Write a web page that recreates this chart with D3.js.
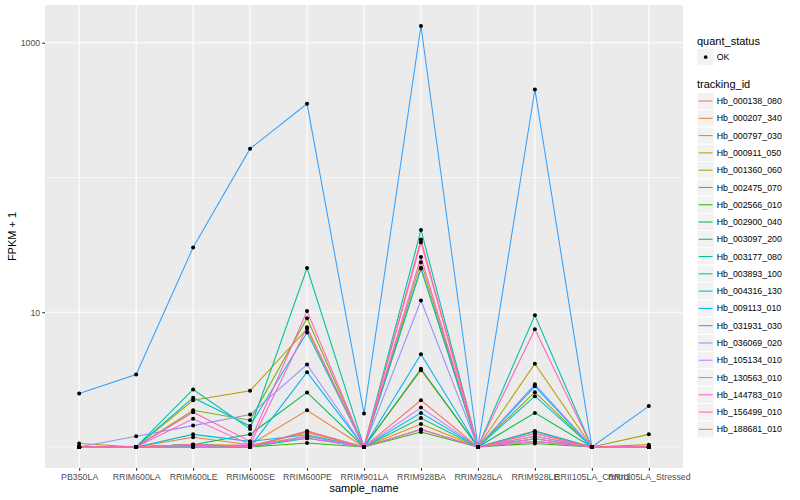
<!DOCTYPE html>
<html>
<head>
<meta charset="utf-8">
<script src="https://cdn.jsdelivr.net/npm/d3@7"></script>
<style>
  body { margin: 0; background: #fff; }
  svg { display: block; font-family: "Liberation Sans", Arial, sans-serif; }
</style>
</head>
<body>
<svg id="vis"></svg>
<script>
// DATOS -------------------------------------------------------------------------------------------
const samples = [
  "PB350LA", "RRIM600LA", "RRIM600LE", "RRIM600SE", "RRIM600PE", "RRIM901LA",
  "RRIM928BA", "RRIM928LA", "RRIM928LE", "RRII105LA_Control", "RRII105LA_Stressed",
];

const trackingIds = [
  "Hb_000138_080", "Hb_000207_340", "Hb_000797_030", "Hb_000911_050", "Hb_001360_060",
  "Hb_002475_070", "Hb_002566_010", "Hb_002900_040", "Hb_003097_200", "Hb_003177_080",
  "Hb_003893_100", "Hb_004316_130", "Hb_009113_010", "Hb_031931_030", "Hb_036069_020",
  "Hb_105134_010", "Hb_130563_010", "Hb_144783_010", "Hb_156499_010", "Hb_188681_010",
];

// FPKM por gen (mismo orden que samples)
const fpkm = [
  [0, 0, 0.04, 0, 0.31, 0, 1.22, 0, 0.26, 0, 0],
  [0, 0, 0.18, 0.04, 0.87, 0, 2.71, 0, 0.31, 0, 0],
  [0, 0, 0.04, 0.02, 0.28, 0, 0.48, 0, 0.2, 0, 0],
  [0, 0, 1.22, 1.61, 6.52, 0, 22.5, 0, 3.14, 0, 0.04],
  [0.06, 0, 0.04, 0.02, 0.2, 0, 0.35, 0, 0.1, 0, 0.24],
  [0, 0, 0.87, 0.58, 8.02, 0, 20.1, 0, 1.55, 0, 0],
  [0, 0, 0, 0, 0.07, 0, 0.29, 0, 0.06, 0, 0],
  [0, 0, 0.04, 0.24, 1.54, 0, 2.8, 0, 0.79, 0, 0],
  [0, 0, 0, 0, 0.16, 0, 0.64, 0, 0.15, 0, 0],
  [0, 0, 1.67, 0.36, 20.3, 0, 39.8, 0, 8.49, 0, 0],
  [0, 0, 1.32, 0.43, 6.06, 0, 20.3, 0, 1.38, 0, 0],
  [0, 0, 0.24, 0.1, 0.23, 0, 0.79, 0, 0.31, 0, 0],
  [0, 0, 0.04, 0, 2.59, 0, 3.88, 0, 1.82, 0, 0],
  [1.49, 2.45, 29.2, 162.6, 351, 0.77, 1329, 0, 449, 0, 1.01],
  [0, 0.2, 0.44, 0.74, 3.09, 0, 11.2, 0, 1.92, 0, 0],
  [0, 0, 0.04, 0, 0.2, 0, 0.96, 0, 0.2, 0, 0],
  [0, 0, 0, 0.04, 0.16, 0, 0.35, 0, 0.1, 0, 0],
  [0, 0, 0.62, 0.04, 6.73, 0, 24.7, 0, 0.15, 0, 0],
  [0, 0, 0.81, 0.1, 9.2, 0, 32.0, 0, 6.48, 0, 0],
  [0, 0, 0.04, 0, 0.31, 0, 33.6, 0, 0.26, 0, 0],
];

const colores = [
  "#F8766D", "#EA8331", "#D89000", "#C09B00", "#A3A500", "#7CAE00", "#39B600",
  "#00BB4E", "#00BF7D", "#00C1A3", "#00BFC4", "#00BAE0", "#00B0F6", "#35A2FF",
  "#9590FF", "#C77CFF", "#E76BF3", "#FA62DB", "#FF62BC", "#FF6C90",
];

const yBreaks = [10, 1000];
const yMinor = [1, 100];

// CONSTANTES --------------------------------------------------------------------------------------
const WIDTH = 800;
const HEIGHT = 500;
const PANEL = { left: 45, top: 5, right: 683, bottom: 468 };
const svg = d3.select("#vis").attr("width", WIDTH).attr("height", HEIGHT);

// ESCALAS -----------------------------------------------------------------------------------------
const escalaX = d3
  .scalePoint()
  .domain(samples)
  .range([PANEL.left, PANEL.right])
  .padding(0.6);

const todos = fpkm.flat().map((v) => Math.log10(v + 1));
const lo = d3.min(todos);
const hi = d3.max(todos);
const ext = (hi - lo) * 0.05;
const escalaY = d3
  .scaleLog()
  .domain([Math.pow(10, lo - ext), Math.pow(10, hi + ext)])
  .range([PANEL.bottom, PANEL.top]);

const escalaColor = d3.scaleOrdinal().domain(trackingIds).range(colores);

// PANEL -------------------------------------------------------------------------------------------
svg
  .append("rect")
  .attr("x", PANEL.left)
  .attr("y", PANEL.top)
  .attr("width", PANEL.right - PANEL.left)
  .attr("height", PANEL.bottom - PANEL.top)
  .attr("fill", "#EBEBEB");

const grilla = svg.append("g");
grilla
  .selectAll(".minor")
  .data(yMinor)
  .join("line")
  .attr("x1", PANEL.left)
  .attr("x2", PANEL.right)
  .attr("y1", (d) => escalaY(d))
  .attr("y2", (d) => escalaY(d))
  .attr("stroke", "#fff")
  .attr("stroke-width", 0.55);
grilla
  .selectAll(".major")
  .data(yBreaks)
  .join("line")
  .attr("x1", PANEL.left)
  .attr("x2", PANEL.right)
  .attr("y1", (d) => escalaY(d))
  .attr("y2", (d) => escalaY(d))
  .attr("stroke", "#fff")
  .attr("stroke-width", 1.1);
grilla
  .selectAll(".vert")
  .data(samples)
  .join("line")
  .attr("x1", (d) => escalaX(d))
  .attr("x2", (d) => escalaX(d))
  .attr("y1", PANEL.top)
  .attr("y2", PANEL.bottom)
  .attr("stroke", "#fff")
  .attr("stroke-width", 1.1);

// EJES --------------------------------------------------------------------------------------------
const ejeY = d3
  .axisLeft(escalaY)
  .tickValues(yBreaks)
  .tickFormat(d3.format("d"))
  .tickSize(2.75)
  .tickPadding(2);
const gY = svg.append("g").attr("transform", `translate(${PANEL.left},0)`).call(ejeY);
const ejeX = d3.axisBottom(escalaX).tickSize(2.75).tickPadding(3.5);
const gX = svg.append("g").attr("transform", `translate(0,${PANEL.bottom})`).call(ejeX);
[gX, gY].forEach((g) => {
  g.select(".domain").remove();
  g.selectAll("line").attr("stroke", "#333333").attr("stroke-width", 1.1);
  g.selectAll("text")
    .attr("fill", "#4D4D4D")
    .style("font-size", "8.8px")
    .style("font-family", "'Liberation Sans', Arial, sans-serif");
});

svg
  .append("text")
  .attr("x", (PANEL.left + PANEL.right) / 2)
  .attr("y", 492)
  .attr("text-anchor", "middle")
  .style("font-size", "11px")
  .text("sample_name");
svg
  .append("text")
  .attr("transform", `translate(16,${(PANEL.top + PANEL.bottom) / 2}) rotate(-90)`)
  .attr("text-anchor", "middle")
  .style("font-size", "11px")
  .text("FPKM + 1");

// LINEAS Y PUNTOS ---------------------------------------------------------------------------------
const series = trackingIds.map((id, i) => ({
  id: id,
  valores: samples.map((s, j) => ({ sample: s, v: fpkm[i][j] + 1 })),
}));

const linea = d3
  .line()
  .x((d) => escalaX(d.sample))
  .y((d) => escalaY(d.v));

svg
  .append("g")
  .selectAll("path")
  .data(series)
  .join("path")
  .attr("d", (d) => linea(d.valores))
  .attr("fill", "none")
  .attr("stroke", (d) => escalaColor(d.id))
  .attr("stroke-width", 1.07);

svg
  .append("g")
  .selectAll("circle")
  .data(series.flatMap((d) => d.valores))
  .join("circle")
  .attr("cx", (d) => escalaX(d.sample))
  .attr("cy", (d) => escalaY(d.v))
  .attr("r", 2)
  .attr("fill", "black");

// LEYENDA -----------------------------------------------------------------------------------------
const leyenda = svg.append("g").attr("transform", "translate(697,0)");
const KEY = 17.28;

leyenda.append("text").attr("x", 0).attr("y", 44.5).style("font-size", "11px").text("quant_status");
leyenda
  .append("rect")
  .attr("x", 0)
  .attr("y", 48.5)
  .attr("width", KEY)
  .attr("height", KEY)
  .attr("fill", "#F2F2F2")
  .attr("stroke", "#fff");
leyenda.append("circle").attr("cx", KEY / 2).attr("cy", 48.5 + KEY / 2).attr("r", 1.8).attr("fill", "black");
leyenda
  .append("text")
  .attr("x", KEY + 2.5)
  .attr("y", 48.5 + KEY / 2 + 3.1)
  .style("font-size", "8.8px")
  .text("OK");

leyenda.append("text").attr("x", 0).attr("y", 88.3).style("font-size", "11px").text("tracking_id");
const items = leyenda
  .selectAll(".item")
  .data(trackingIds)
  .join("g")
  .attr("transform", (d, i) => `translate(0,${92.4 + i * KEY})`);
items
  .append("rect")
  .attr("width", KEY)
  .attr("height", KEY)
  .attr("fill", "#F2F2F2")
  .attr("stroke", "#fff");
items
  .append("line")
  .attr("x1", 1.7)
  .attr("x2", KEY - 1.7)
  .attr("y1", KEY / 2)
  .attr("y2", KEY / 2)
  .attr("stroke", (d) => escalaColor(d))
  .attr("stroke-width", 1.07);
items
  .append("text")
  .attr("x", KEY + 2.5)
  .attr("y", KEY / 2 + 3.1)
  .style("font-size", "8.8px")
  .text((d) => d);
</script>
</body>
</html>
